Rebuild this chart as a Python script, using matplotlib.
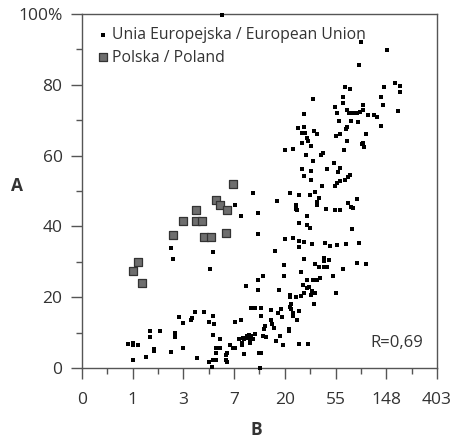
import matplotlib
matplotlib.use("Agg")
import matplotlib.pyplot as plt
from matplotlib.ticker import MultipleLocator
import numpy as np

# x is plotted on an ln-like position scale; tick labels give B values
x_ticks = [0, 1, 2, 3, 4, 5, 6, 7]
x_tick_labels = ["0", "1", "3", "7", "20", "55", "148", "403"]
y_ticks = [0, 20, 40, 60, 80, 100]
y_tick_labels = ["0", "20", "40", "60", "80", "100%"]

poland_x = [2.97, 2.64, 2.73, 2.86, 2.24, 2.0, 2.24, 2.36, 1.79, 2.40, 2.55, 2.83, 1.10, 1.01, 1.19]
poland_y = [51.9, 47.5, 46.0, 44.5, 44.7, 41.5, 41.4, 41.5, 37.5, 37.1, 36.9, 38.1, 29.9, 27.5, 24.1]

eu_pts = [
    (0.90,6.7),(1.01,7.2),(1.01,6.6),(1.10,6.6),(1.01,2.3),(1.27,3.2),(1.34,10.5),(1.34,8.8),
    (1.41,5.4),(1.41,4.8),(1.54,10.5),(1.76,4.5),(1.83,10.0),(1.83,8.8),(1.92,14.3),(2.0,12.6),
    (2.0,5.6),(2.14,13.6),(2.16,14.2),(2.23,15.9),(2.26,2.7),(2.41,15.9),(2.50,13.0),(2.59,14.7),
    (2.61,12.3),(2.59,9.4),(2.51,1.8),(2.58,2.2),(2.56,0.4),(2.64,5.6),(2.64,4.3),(2.64,2.3),
    (2.72,8.1),(2.73,5.6),(2.83,3.7),(2.84,2.3),(2.85,1.7),(2.85,4.3),(2.91,6.4),(2.97,5.6),
    (3.02,5.6),(3.02,13.1),(3.14,13.7),(3.09,8.1),(3.15,7.0),(3.17,8.5),(3.15,6.4),(3.20,8.1),
    (3.25,9.0),(3.19,4.0),(3.27,8.5),(3.30,9.3),(3.34,9.0),(3.38,8.3),(3.41,9.5),(3.32,7.0),
    (3.31,7.8),(3.49,4.3),(3.51,0.1),
    (1.76,34.0),(1.79,30.9),(2.59,32.9),(2.53,27.9),(3.02,46.0),(3.13,42.9),(3.37,49.3),(3.47,43.9),
    (3.47,37.9),(3.23,23.3),(3.47,25.0),(3.56,26.0),(3.47,22.0),(3.33,17.0),(3.41,17.0),(3.52,16.9),
    (3.52,14.7),(2.77,99.8),
    (3.53,4.3),(3.56,9.0),(3.63,8.8),(3.61,12.0),(3.58,11.1),(3.73,16.5),(3.73,13.7),(3.75,12.5),
    (3.79,11.3),(3.82,7.6),(3.90,9.0),(3.96,6.6),(3.87,15.4),(3.92,16.8),(3.94,14.5),(3.88,22.0),
    (4.09,11.1),(4.09,10.5),(4.10,17.3),(4.12,18.1),(4.12,16.7),(4.17,15.4),(4.17,14.7),(4.23,13.6),
    (4.28,16.0),(4.10,20.6),(4.10,20.1),(4.21,20.0),(4.32,20.4),(4.37,21.1),(4.52,20.6),(4.27,6.9),
    (4.46,6.9),(3.99,26.0),(3.99,29.1),(3.81,33.1),(4.31,27.0),(4.38,30.9),(4.0,36.4),(4.17,36.7),
    (4.27,36.0),(4.27,34.3),(4.38,35.6),(4.54,34.9),(4.79,35.2),(4.89,34.5),(5.02,34.7),(5.21,34.9),
    (5.46,35.4),(4.44,24.9),(4.56,24.9),(4.63,24.9),(4.36,23.5),(4.44,22.6),(4.54,21.8),(4.60,21.3),
    (4.47,23.0),(4.58,18.2),(4.69,25.3),(4.60,29.5),(4.68,28.4),(4.78,31.0),(4.78,30.2),(4.78,28.6),
    (4.83,28.6),(4.88,30.5),(4.94,26.0),(5.00,21.3),(5.14,27.9),(5.42,29.8),(5.60,29.5),(5.33,39.4),
    (4.10,49.5),(4.27,49.0),(4.50,49.0),(4.60,49.6),(4.68,47.9),(4.63,46.8),(4.64,46.0),(3.85,47.1),
    (4.21,46.0),(4.21,44.8),(4.23,44.5),(4.43,43.0),(4.27,41.1),(4.44,40.5),(4.50,39.5),(4.82,44.8),
    (4.99,44.5),(5.09,44.5),(5.25,46.5),(5.30,45.6),(5.35,45.3),(5.43,47.6),(4.73,51.3),(4.99,51.3),
    (5.02,52.2),(5.09,52.8),(5.19,53.1),(4.52,53.1),
    (4.0,61.6),(4.16,61.9),(4.33,63.6),(4.46,64.1),(4.52,62.7),(4.41,60.2),(4.56,58.5),(4.71,60.1),
    (4.76,60.6),(4.33,56.1),(4.52,55.6),(4.37,54.2),(4.84,56.1),(4.96,57.8),(5.09,56.6),(5.04,55.5),
    (5.25,54.0),(5.29,54.5),(5.53,63.2),(5.57,62.3),(5.17,61.6),
    (4.56,76.0),(4.38,71.8),(4.25,67.8),(4.38,68.2),(4.34,66.3),(4.40,66.3),(4.43,65.1),(4.58,66.9),
    (4.63,66.1),(4.98,73.8),(5.03,72.1),(5.06,69.8),(5.0,65.4),(5.08,66.0),
    (5.50,92.1),(6.01,89.8),(5.46,85.7),(5.19,79.4),(5.29,78.7),(5.96,79.3),(6.18,80.4),(6.28,79.8),
    (6.28,77.9),(5.89,76.5),(5.93,74.3),(6.24,72.5),(5.14,76.5),(5.15,75.0),(5.23,72.9),(5.27,72.1),
    (5.35,72.1),(5.42,72.1),(5.48,72.4),(5.55,74.3),(5.55,72.9),(5.63,71.6),(5.75,71.5),(5.81,70.8),
    (5.30,69.8),(5.45,69.6),(5.60,66.1),(5.90,68.4),(5.23,68.2),(5.21,67.4),(5.23,64.0),(5.55,63.5),
]
eu_x = [p[0] for p in eu_pts]
eu_y = [p[1] for p in eu_pts]

plt.rcParams['font.family'] = ['Open Sans', 'DejaVu Sans']
text_col = '#333333'

fig = plt.figure(figsize=(4.54, 4.42), dpi=100)
ax = fig.add_axes([82/454, 1-368/442, (437-82)/454, (368-14)/442])

ax.scatter(eu_x, eu_y, marker='s', s=7, color='black', linewidths=0, zorder=3,
           label='Unia Europejska / European Union', clip_on=False)
ax.scatter(poland_x, poland_y, marker='s', s=36, color='#6e6e6e', edgecolors='#333333',
           linewidths=0.9, zorder=4, label='Polska / Poland')

ax.set_xlim(0, 7)
ax.set_ylim(0, 100)
ax.set_xticks(x_ticks)
ax.set_xticklabels(x_tick_labels)
ax.set_yticks(y_ticks)
ax.set_yticklabels(y_tick_labels)
ax.xaxis.set_minor_locator(MultipleLocator(0.5))
ax.yaxis.set_minor_locator(MultipleLocator(10))
ax.tick_params(axis='both', which='major', direction='out', length=8, width=1,
               color='#555555', labelsize=12.5, labelcolor=text_col, pad=6)
ax.tick_params(axis='x', which='major', pad=9)
ax.tick_params(axis='both', which='minor', direction='out', length=4.5, width=1, color='#555555')
for s in ax.spines.values():
    s.set_color('#555555')
    s.set_linewidth(1)

ax.set_xlabel('B', fontsize=12.5, fontweight='bold', color=text_col)
ax.set_ylabel('A', fontsize=12.5, fontweight='bold', color=text_col, rotation=0,
              va='center', ha='center')
ax.yaxis.set_label_coords(-0.183, 0.514)
ax.xaxis.set_label_coords(0.49, -0.15)

ax.text(0.96, 0.07, 'R=0,69', transform=ax.transAxes, ha='right', va='center',
        fontsize=12, color=text_col)

leg = ax.legend(loc='upper left', frameon=False, fontsize=11.3, handletextpad=0.05,
                borderaxespad=0.45, labelspacing=0.4, handlelength=1.0,
                bbox_to_anchor=(0.0, 1.0), markerscale=1.0)
for t in leg.get_texts():
    t.set_color(text_col)

fig.savefig('out.png', dpi=100)
